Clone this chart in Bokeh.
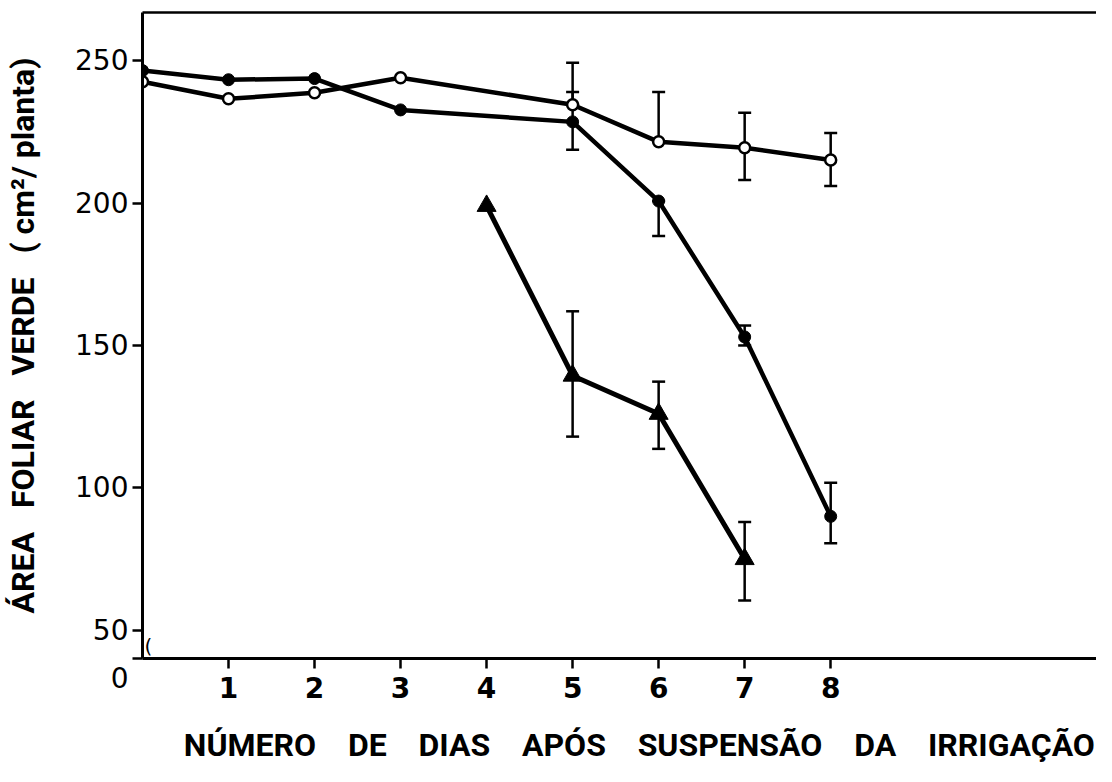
import math
from bokeh.plotting import figure
from bokeh.models import Range1d, LinearAxis, Label, FixedTicker
from bokeh.embed import file_html
from bokeh.resources import INLINE

# ---- data ----
x_ticks = [1, 2, 3, 4, 5, 6, 7, 8]
y_ticks = [50, 100, 150, 200, 250]

# control (open circles)
ctrl_days = [0, 1, 2, 3, 5, 6, 7, 8]
ctrl_area = [242.6, 236.6, 238.7, 244.0, 234.5, 221.5, 219.4, 215.1]
ctrl_err_days = [5, 6, 7, 8]
ctrl_err_low = [234.5, 221.5, 208.1, 206.0]
ctrl_err_high = [249.3, 239.0, 231.7, 224.6]

# treatment 1 (filled circles)
trt1_days = [0, 1, 2, 3, 5, 6, 7, 8]
trt1_area = [246.5, 243.3, 243.7, 232.7, 228.5, 200.7, 153.0, 90.0]
trt1_err_days = [5, 6, 7, 8]
trt1_err_low = [218.7, 188.4, 150.0, 80.6]
trt1_err_high = [239.0, 200.7, 157.0, 101.8]

# treatment 2 (filled triangles)
trt2_days = [4, 5, 6, 7]
trt2_area = [199.0, 139.4, 126.0, 75.0]
trt2_err_days = [5, 6, 7]
trt2_err_low = [118.0, 113.7, 60.5]
trt2_err_high = [162.0, 137.3, 88.0]

NB = "\u00a0"
x_title = (NB * 5) + (NB * 4).join(["NÚMERO", "DE", "DIAS", "APÓS", "SUSPENSÃO", "DA", "IRRIGAÇÃO"])
y_title = (NB * 3).join(["ÁREA", "FOLIAR", "VERDE", "(" + NB + "cm²/" + NB + "planta)"])

X0, X1 = 0.0, 11.09
Y0, Y1 = 40.1, 266.9

p = figure(width=1096, height=766, output_backend="svg", toolbar_location=None,
           x_range=Range1d(X0, X1), y_range=Range1d(Y0, Y1),
           min_border_left=142, min_border_right=0, min_border_top=12, min_border_bottom=108,
           outline_line_color=None, background_fill_color="white", border_fill_color="white")
p.grid.visible = False

TICK_FONT = "DejaVu Sans"
TITLE_FONT = "Roboto"

xa = p.xaxis[0]
xa.ticker = FixedTicker(ticks=x_ticks)
xa.axis_line_width = 3
xa.major_tick_line_width = 2.5
xa.major_tick_out = 10
xa.major_tick_in = 0
xa.minor_tick_line_color = None
xa.major_label_text_font = TICK_FONT
xa.major_label_text_font_size = "28px"
xa.major_label_text_font_style = "bold"
xa.major_label_text_color = "black"
xa.major_label_standoff = 8
xa.axis_label = x_title
xa.axis_label_text_font = TITLE_FONT
xa.axis_label_text_font_style = "bold"
xa.axis_label_text_font_size = "32px"
xa.axis_label_text_color = "black"
xa.axis_label_standoff = 25

ya = p.yaxis[0]
ya.ticker = FixedTicker(ticks=[Y0] + y_ticks)
ya.major_label_overrides = {Y0: NB + "\n0"}
ya.axis_line_width = 3
ya.major_tick_line_width = 2.5
ya.major_tick_out = 10
ya.major_tick_in = 0
ya.minor_tick_line_color = None
ya.major_label_text_font = TICK_FONT
ya.major_label_text_font_size = "28px"
ya.major_label_text_color = "black"
ya.major_label_standoff = 4
ya.axis_label = y_title
ya.axis_label_text_font = TITLE_FONT
ya.axis_label_text_font_style = "bold"
ya.axis_label_text_font_size = "32px"
ya.axis_label_text_color = "black"
ya.axis_label_standoff = 30

top = LinearAxis(ticker=FixedTicker(ticks=[]), axis_line_width=2.5,
                 major_label_text_font_size="0px", minor_tick_line_color=None)
p.add_layout(top, "above")

# error bars
def errbars(days, lo, hi):
    p.segment(x0=days, y0=lo, x1=days, y1=hi, line_color="black", line_width=2.5)
    p.scatter(days, lo, marker="dash", size=13, line_color="black", line_width=2.5)
    p.scatter(days, hi, marker="dash", size=13, line_color="black", line_width=2.5)

errbars(ctrl_err_days, ctrl_err_low, ctrl_err_high)
errbars(trt1_err_days, trt1_err_low, trt1_err_high)
errbars(trt2_err_days, trt2_err_low, trt2_err_high)

# lines
p.line(ctrl_days, ctrl_area, line_color="black", line_width=4.5)
p.line(trt1_days, trt1_area, line_color="black", line_width=4.5)
p.line(trt2_days, trt2_area, line_color="black", line_width=5)

# markers
p.scatter(trt1_days, trt1_area, marker="circle", size=12, fill_color="black", line_color="black")
p.scatter(ctrl_days, ctrl_area, marker="circle", size=11, fill_color="white", line_color="black", line_width=2.5)
p.scatter(trt2_days, trt2_area, marker="triangle", size=19, fill_color="black", line_color="black")

# axis break mark near the origin (inside the frame)
p.add_layout(Label(x=2, y=13, x_units="screen", y_units="screen", text="(",
                   text_font=TICK_FONT, text_font_size="20px", text_color="black",
                   text_align="left", text_baseline="middle"))

open("out.html", "w").write(file_html(p, INLINE))
